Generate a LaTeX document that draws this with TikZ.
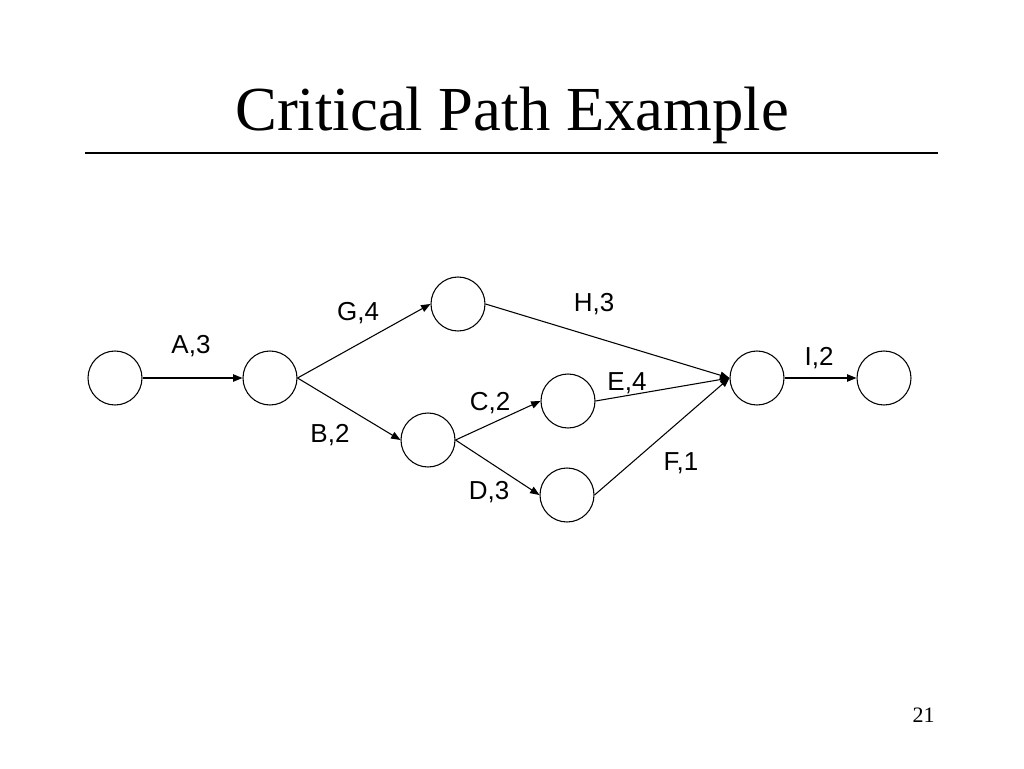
\documentclass[tikz,border=0pt]{standalone}
\usepackage{fontspec}
\setmainfont{Liberation Serif}
\newfontfamily\labfont{Liberation Sans}
\usetikzlibrary{arrows.meta}
\begin{document}
\begin{tikzpicture}[x=0.75pt,y=-0.75pt,
  ev/.style={circle,draw,line width=0.8pt,minimum size=40.5pt,inner sep=0pt},
  act/.style={draw,line width=0.8pt,-{Triangle[length=7pt,width=5.5pt]}},
  lab/.style={anchor=base,inner sep=0pt,font=\labfont\fontsize{19.5}{21}\selectfont}]
\useasboundingbox (0,0) rectangle (1024,768);
\fill[white] (0,0) rectangle (1024,768);
% title and rule
\node[anchor=base,inner sep=0pt,font=\fontsize{47}{50}\selectfont] (title) at (512,130) {Critical Path Example};
\coordinate (rl) at (85,153);
\coordinate (rr) at (938,153);
\draw[line width=0.9pt] (rl) -- (rr);
\node[anchor=base east,inner sep=0pt,font=\fontsize{16.5}{18}\selectfont] (pg) at (935,722) {21};
% events
\node[ev] (n1) at (115,378) {};
\node[ev] (n2) at (270,378) {};
\node[ev] (n3) at (458,304) {};
\node[ev] (n4) at (428,440) {};
\node[ev] (n5) at (568,401) {};
\node[ev] (n6) at (567,495) {};
\node[ev] (n7) at (757,378) {};
\node[ev] (n8) at (884,378) {};
% activities
\draw[act] (n1.east) -- (n2.west);
\draw[act] (n2.east) -- (n3.west);
\draw[act] (n2.east) -- (n4.west);
\draw[act] (n4.east) -- (n5.west);
\draw[act] (n4.east) -- (n6.west);
\draw[act] (n3.east) -- (n7.west);
\draw[act] (n5.east) -- (n7.west);
\draw[act] (n6.east) -- (n7.west);
\draw[act] (n7.east) -- (n8.west);
% labels
\node[lab] (la) at (191,353) {A,3};
\node[lab] (lg) at (358,320) {G,4};
\node[lab] (lb) at (330,442) {B,2};
\node[lab] (lh) at (594,311) {H,3};
\node[lab] (lc) at (490,410) {C,2};
\node[lab] (le) at (627,390) {E,4};
\node[lab] (ld) at (489,499) {D,3};
\node[lab] (lf) at (681,470) {F,1};
\node[lab] (li) at (819,365) {I,2};
\end{tikzpicture}
\end{document}
